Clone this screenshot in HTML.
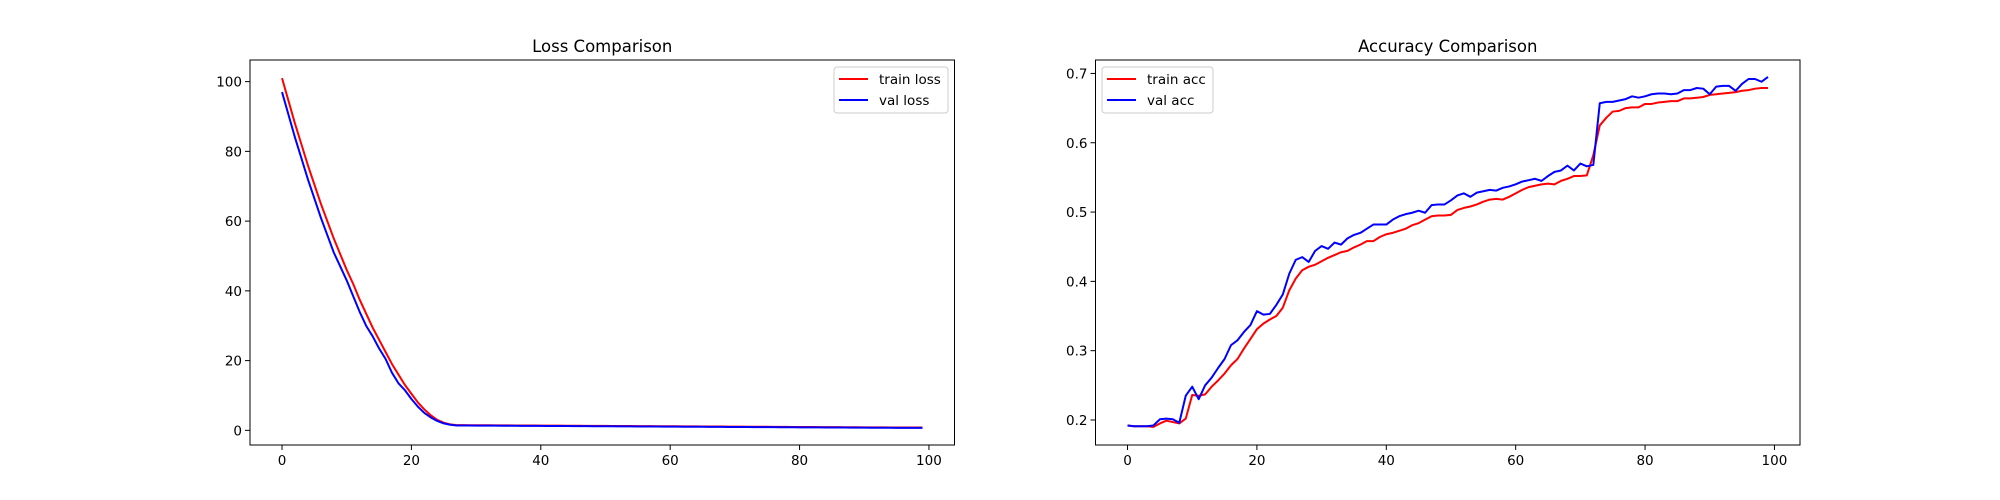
<!DOCTYPE html>
<html><head><meta charset="utf-8">
<style>
html,body{margin:0;padding:0;background:#fff;}
svg{display:block;font-family:"DejaVu Sans","Liberation Sans",sans-serif;}
</style></head>
<body>
<svg id="fig" width="2000" height="500" xmlns="http://www.w3.org/2000/svg">
<rect width="2000" height="500" fill="#fff"/>
<g id="ax1"></g>
<g id="ax2"></g>
</svg>
<script>
const epochs = Array.from({length:100},(_, i)=>i);
const trainLoss = [101,94.5,88,82,76,70.5,65,60,55,50.5,46,42,37.5,33.5,29.5,26,22.5,19,16,13,10.5,8,6,4.3,3,2.2,1.7,1.5,1.5,1.48,1.47,1.46,1.45,1.44,1.43,1.42,1.41,1.4,1.39,1.38,1.37,1.36,1.35,1.34,1.33,1.32,1.31,1.3,1.29,1.28,1.27,1.26,1.25,1.24,1.23,1.22,1.21,1.2,1.19,1.18,1.17,1.16,1.15,1.14,1.13,1.12,1.11,1.1,1.09,1.08,1.07,1.06,1.05,1.04,1.03,1.02,1.01,1.0,0.99,0.98,0.97,0.96,0.95,0.94,0.93,0.92,0.91,0.9,0.89,0.88,0.87,0.86,0.85,0.84,0.83,0.82,0.81,0.8,0.8,0.8];
const valLoss = [97,90.5,84,78,72,66.5,61,56,51,47,43,38.5,34,30,27,23.5,20.5,16.5,13.5,11.5,9,6.8,5,3.7,2.7,2,1.6,1.4,1.4,1.38,1.37,1.36,1.35,1.34,1.33,1.32,1.31,1.3,1.29,1.28,1.27,1.26,1.25,1.24,1.23,1.22,1.21,1.2,1.19,1.18,1.17,1.16,1.15,1.14,1.13,1.12,1.11,1.1,1.09,1.08,1.07,1.06,1.05,1.04,1.03,1.02,1.01,1.0,0.99,0.98,0.97,0.96,0.95,0.94,0.93,0.92,0.91,0.9,0.89,0.88,0.87,0.86,0.85,0.84,0.83,0.82,0.81,0.8,0.79,0.78,0.77,0.76,0.75,0.74,0.73,0.72,0.72,0.72,0.72,0.72];
const trainAcc = [0.192,0.191,0.191,0.191,0.190,0.195,0.199,0.197,0.195,0.202,0.236,0.235,0.237,0.248,0.257,0.267,0.279,0.288,0.303,0.317,0.331,0.339,0.345,0.350,0.362,0.387,0.404,0.416,0.421,0.424,0.429,0.434,0.438,0.442,0.444,0.449,0.453,0.458,0.458,0.464,0.468,0.470,0.473,0.476,0.481,0.484,0.489,0.494,0.495,0.495,0.496,0.503,0.506,0.508,0.511,0.515,0.518,0.519,0.518,0.522,0.527,0.532,0.536,0.538,0.540,0.541,0.540,0.545,0.548,0.552,0.552,0.553,0.582,0.625,0.636,0.645,0.646,0.650,0.651,0.651,0.656,0.656,0.658,0.659,0.660,0.660,0.664,0.664,0.665,0.666,0.669,0.670,0.671,0.672,0.673,0.675,0.676,0.678,0.679,0.679];
const valAcc = [0.192,0.191,0.191,0.191,0.192,0.201,0.202,0.201,0.196,0.235,0.248,0.230,0.250,0.261,0.275,0.288,0.308,0.315,0.327,0.337,0.357,0.352,0.353,0.366,0.381,0.411,0.431,0.435,0.428,0.444,0.451,0.447,0.456,0.453,0.462,0.467,0.470,0.476,0.482,0.482,0.482,0.489,0.494,0.497,0.499,0.502,0.499,0.510,0.511,0.511,0.517,0.524,0.527,0.522,0.528,0.530,0.532,0.531,0.535,0.537,0.540,0.544,0.546,0.548,0.545,0.552,0.558,0.560,0.567,0.560,0.570,0.566,0.568,0.657,0.659,0.659,0.661,0.663,0.667,0.665,0.667,0.670,0.671,0.671,0.670,0.671,0.676,0.676,0.679,0.678,0.670,0.681,0.682,0.682,0.675,0.685,0.692,0.692,0.688,0.695];
const xTicks = [0,20,40,60,80,100];
const lossTicks = [0,20,40,60,80,100];
const accTicks = [0.2,0.3,0.4,0.5,0.6,0.7];
const accTickLabels = ["0.2","0.3","0.4","0.5","0.6","0.7"];

const NS="http://www.w3.org/2000/svg";
function mk(parent,tag,attrs){const e=document.createElementNS(NS,tag);for(const k in attrs)e.setAttribute(k,attrs[k]);parent.appendChild(e);return e;}

function drawAxes(g,cfg){
  const L=cfg.left,R=cfg.right,T=60,B=445;
  const sx=v=>L+(v-cfg.xmin)/(cfg.xmax-cfg.xmin)*(R-L);
  const sy=v=>B-(v-cfg.ymin)/(cfg.ymax-cfg.ymin)*(B-T);
  cfg.series.forEach(s=>{
    const p=mk(g,'polyline',{points:epochs.map((e,i)=>sx(e).toFixed(2)+','+sy(s.data[i]).toFixed(2)).join(' '),fill:'none',stroke:s.color,'stroke-width':2,'stroke-linejoin':'round'});
    
    
  });
  const frame=mk(g,'rect',{x:L,y:T,width:R-L,height:B-T,fill:'none',stroke:'#000','stroke-width':1});
  
  
  xTicks.forEach(v=>{
    const x=sx(v);
    mk(g,'line',{x1:x,y1:B,x2:x,y2:B+5,stroke:'#000','stroke-width':1});
    const t=mk(g,'text',{x:x,y:B+20,'text-anchor':'middle','font-size':13.5,fill:'#000'});
    t.textContent=v;
    
    
  });
  cfg.yticks.forEach((v,i)=>{
    const y=sy(v);
    mk(g,'line',{x1:L-5,y1:y,x2:L,y2:y,stroke:'#000','stroke-width':1});
    const t=mk(g,'text',{x:L-8,y:y+5,'text-anchor':'end','font-size':13.5,fill:'#000'});
    t.textContent=cfg.ylabels[i];
    
    
  });
  const title=mk(g,'text',{x:(L+R)/2,y:52,'text-anchor':'middle','font-size':16.5,fill:'#000'});
  title.textContent=cfg.title;
  
  
  const lg=mk(g,'g',{});
  
  
  const lx=cfg.legX,ly=67;
  mk(lg,'rect',{x:lx,y:ly,width:cfg.legW,height:46,rx:3,fill:'#fff','fill-opacity':0.8,stroke:'#ccc','stroke-width':1});
  cfg.series.forEach((s,i)=>{
    const yy=ly+12+i*21;
    mk(lg,'line',{x1:lx+5,y1:yy,x2:lx+34,y2:yy,stroke:s.color,'stroke-width':2});
    const t=mk(lg,'text',{x:lx+45,y:yy+5,'font-size':13.5,fill:'#000'});
    t.textContent=s.label;
    
    
  });
}
drawAxes(document.getElementById('ax1'),{left:250,right:954.5,xmin:-4.95,xmax:103.95,ymin:-4.2,ymax:106.2,
  yticks:lossTicks,ylabels:lossTicks.map(String),title:'Loss Comparison',legX:834,legW:114,
  series:[{name:'train-loss',label:'train loss',color:'#ff0000',data:trainLoss},{name:'val-loss',label:'val loss',color:'#0000ff',data:valLoss}]});
drawAxes(document.getElementById('ax2'),{left:1095.5,right:1800,xmin:-4.95,xmax:103.95,ymin:0.1639,ymax:0.7194,
  yticks:accTicks,ylabels:accTickLabels,title:'Accuracy Comparison',legX:1102,legW:111,
  series:[{name:'train-acc',label:'train acc',color:'#ff0000',data:trainAcc},{name:'val-acc',label:'val acc',color:'#0000ff',data:valAcc}]});
</script>
</body></html>
